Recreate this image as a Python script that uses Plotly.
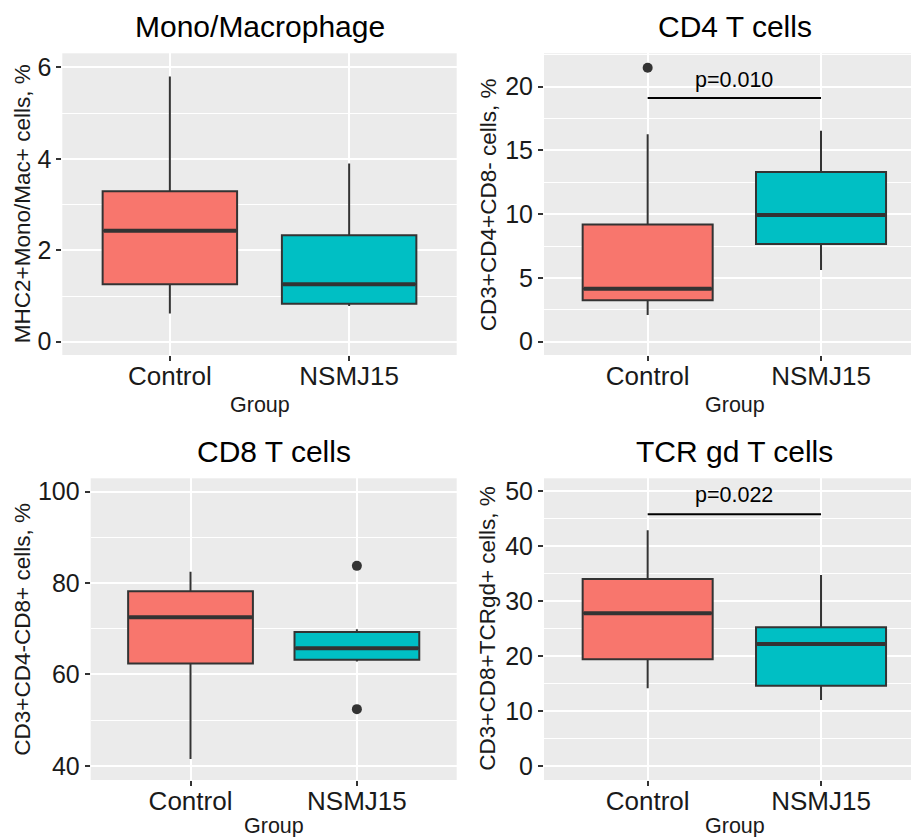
import plotly.graph_objects as go

# ---------------- data ----------------
categories = ["Control", "NSMJ15"]
panel_titles = ["Mono/Macrophage", "CD4 T cells", "CD8 T cells", "TCR gd T cells"]
y_titles = ["MHC2+Mono/Mac+ cells, %", "CD3+CD4+CD8- cells, %",
            "CD3+CD4-CD8+ cells, %", "CD3+CD8+TCRgd+ cells, %"]
x_title = "Group"

mono_lower = [0.62, 0.78]
mono_q1 = [1.26, 0.83]
mono_median = [2.43, 1.26]
mono_q3 = [3.29, 2.33]
mono_upper = [5.80, 3.90]
mono_outliers = [[], []]

cd4_lower = [2.10, 5.62]
cd4_q1 = [3.25, 7.66]
cd4_median = [4.16, 9.94]
cd4_q3 = [9.20, 13.31]
cd4_upper = [16.27, 16.55]
cd4_outliers = [[21.49], []]

cd8_lower = [41.5, 62.8]
cd8_q1 = [62.4, 63.2]
cd8_median = [72.5, 65.7]
cd8_q3 = [78.2, 69.3]
cd8_upper = [82.44, 69.9]
cd8_outliers = [[], [83.75, 52.4]]

tcr_lower = [14.14, 12.0]
tcr_q1 = [19.42, 14.6]
tcr_median = [27.8, 22.2]
tcr_q3 = [34.04, 25.25]
tcr_upper = [42.96, 34.8]
tcr_outliers = [[], []]

pvalue_labels = [None, "p=0.010", None, "p=0.022"]
pvalue_bracket_y = [None, 19.11, None, 45.87]
pvalue_text_y = [None, 20.5, None, 49.3]

y_ranges = [[-0.29, 6.31], [-1.04, 22.62], [36.9, 102.9], [-2.55, 52.4]]
y_dticks = [2, 5, 20, 10]
y_tick0 = [0, 0, 40, 0]

# ---------------- style / layout ----------------
W, H = 911, 837
FONT = "Liberation Sans, Arial, Helvetica, sans-serif"
fills = ["#F8766D", "#00BFC4"]
edge = "#333333"
box_width = 0.75

def px(x):
    return x / W

def py(y):
    return 1 - y / H

# panel pixel boxes: left, right, top, bottom
panels = [
    (62.3, 456.7, 53.3, 355.0),
    (544.0, 911.0, 53.3, 355.0),
    (90.7, 456.7, 478.3, 780.0),
    (544.0, 911.0, 478.3, 780.0),
]
x_ranges = [[-0.6, 1.6], [-0.598, 1.519], [-0.6, 1.6], [-0.598, 1.519]]
title_cx = [259.5, 734.5, 273.7, 734.5]
title_cy = [27.0, 27.0, 451.0, 451.0]
ytitle_cx = [22.0, 488.0, 22.5, 487.5]
group_cy = [405.0, 405.0, 826.0, 826.0]

stats = [
    (mono_lower, mono_q1, mono_median, mono_q3, mono_upper, mono_outliers),
    (cd4_lower, cd4_q1, cd4_median, cd4_q3, cd4_upper, cd4_outliers),
    (cd8_lower, cd8_q1, cd8_median, cd8_q3, cd8_upper, cd8_outliers),
    (tcr_lower, tcr_q1, tcr_median, tcr_q3, tcr_upper, tcr_outliers),
]

fig = go.Figure()
annotations = []

for i in range(4):
    ax = "" if i == 0 else str(i + 1)
    xref, yref = "x" + ax, "y" + ax
    lo, q1, med, q3, up, outl = stats[i]
    for g in range(2):
        fig.add_trace(go.Box(
            x=[g], q1=[q1[g]], median=[med[g]], q3=[q3[g]],
            lowerfence=[lo[g]], upperfence=[up[g]],
            width=box_width, whiskerwidth=0,
            fillcolor=fills[g], line=dict(color=edge, width=2),
            boxpoints=False, showlegend=False, hoverinfo="skip",
            xaxis=xref, yaxis=yref,
        ))
        # thicker median line (ggplot style)
        fig.add_trace(go.Scatter(
            x=[g - box_width / 2 + 0.006, g + box_width / 2 - 0.006],
            y=[med[g], med[g]], mode="lines",
            line=dict(color=edge, width=4), showlegend=False,
            hoverinfo="skip", xaxis=xref, yaxis=yref,
        ))
        if outl[g]:
            fig.add_trace(go.Scatter(
                x=[g] * len(outl[g]), y=outl[g], mode="markers",
                marker=dict(color=edge, size=10), showlegend=False,
                hoverinfo="skip", xaxis=xref, yaxis=yref,
            ))
    if pvalue_labels[i]:
        fig.add_trace(go.Scatter(
            x=[0, 1], y=[pvalue_bracket_y[i]] * 2, mode="lines",
            line=dict(color="black", width=2), showlegend=False,
            hoverinfo="skip", xaxis=xref, yaxis=yref,
        ))
        annotations.append(dict(
            x=0.5, y=pvalue_text_y[i], xref=xref, yref=yref,
            text=pvalue_labels[i], showarrow=False,
            font=dict(family=FONT, size=21.5, color="black"),
            xanchor="center", yanchor="middle",
        ))

    l, r, t, b = panels[i]
    dt = y_dticks[i]
    fig.layout["xaxis" + ax] = dict(
        domain=[px(l), px(r)], anchor=yref, range=x_ranges[i],
        tickmode="array", tickvals=[0, 1], ticktext=categories,
        showgrid=True, gridcolor="white", gridwidth=2,
        zeroline=False, showline=False,
        ticks="outside", ticklen=5, tickwidth=1.6, tickcolor=edge,
        ticklabelstandoff=-7,
        tickfont=dict(family=FONT, size=26, color="#1a1a1a"),
        fixedrange=True,
    )
    fig.layout["yaxis" + ax] = dict(
        domain=[py(b), py(t)], anchor=xref, range=y_ranges[i],
        tick0=y_tick0[i], dtick=dt,
        showgrid=True, gridcolor="white", gridwidth=2,
        minor=dict(tick0=y_tick0[i] + dt / 2, dtick=dt, showgrid=True,
                   gridcolor="white", gridwidth=1, ticks=""),
        zeroline=False, showline=False,
        ticks="outside", ticklen=5, tickwidth=1.6, tickcolor=edge,
        tickfont=dict(family=FONT, size=25, color="#1a1a1a"),
        fixedrange=True,
    )
    # panel title
    annotations.append(dict(
        x=px(title_cx[i]), y=py(title_cy[i]), xref="paper", yref="paper",
        text=panel_titles[i], showarrow=False,
        font=dict(family=FONT, size=30, color="black"),
        xanchor="center", yanchor="middle",
    ))
    # x axis title
    annotations.append(dict(
        x=px(title_cx[i]), y=py(group_cy[i]), xref="paper", yref="paper",
        text=x_title, showarrow=False,
        font=dict(family=FONT, size=21.5, color="#1a1a1a"),
        xanchor="center", yanchor="middle",
    ))
    # y axis title
    annotations.append(dict(
        x=px(ytitle_cx[i]), y=py((t + b) / 2), xref="paper", yref="paper",
        text=y_titles[i], showarrow=False, textangle=-90,
        font=dict(family=FONT, size=22.5, color="#1a1a1a"),
        xanchor="center", yanchor="middle",
    ))

fig.update_layout(
    width=W, height=H,
    margin=dict(l=0, r=0, t=0, b=0),
    paper_bgcolor="white",
    plot_bgcolor="#EBEBEB",
    showlegend=False,
    annotations=annotations,
)

fig.write_html("out.html", config={"displayModeBar": False})
